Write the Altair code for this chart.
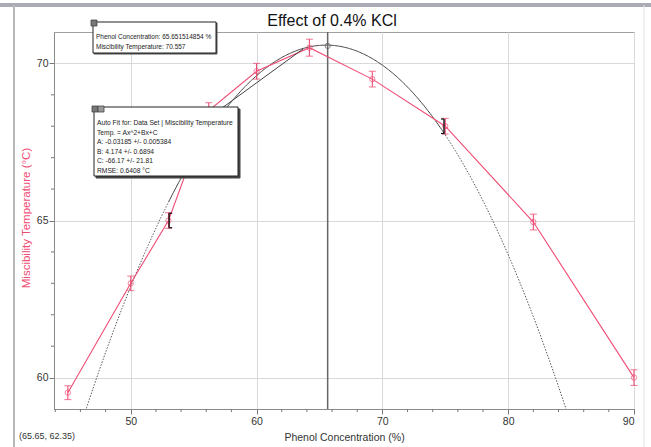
import altair as alt
import pandas as pd

# ---------------- data ----------------
phenol = [45.0, 50.0, 53.0, 56.2, 60.0, 64.2, 69.2, 75.0, 82.0, 90.0]
temp = [59.52, 63.0, 65.0, 68.5, 69.75, 70.5, 69.5, 68.0, 64.95, 60.0]
err = [0.22, 0.23, 0.25, 0.25, 0.25, 0.27, 0.25, 0.25, 0.25, 0.25]

# quadratic auto-fit shown in the annotation box
fit_A, fit_B, fit_C = -0.03185, 4.174, -66.17
fit_range = [53.0, 75.0]          # selected fit region (bracket markers)
fit_extent = [46.4, 84.7]         # where the dotted extrapolation leaves the plot
bracket_x = [53.05, 74.9]
bracket_y = [65.0, 68.0]

cursor_x = 65.651514854
cursor_y = 70.557

x_major = [50, 60, 70, 80, 90]
x_minor = [44, 46, 48, 52, 54, 56, 58, 62, 64, 66, 68, 72, 74, 76, 78, 82, 84, 86, 88]
y_major = [60, 65, 70]
y_minor = [61, 62, 63, 64, 66, 67, 68, 69]

title_text = "Effect of 0.4% KCl"
x_title = "Phenol Concentration (%)"
y_title = "Miscibility Temperature (°C)"
box1_lines = ["Phenol Concentration: 65.651514854 %", "Miscibility Temperature: 70.557"]
box2_lines = ["Auto Fit for: Data Set | Miscibility Temperature",
              "Temp. = Ax^2+Bx+C",
              "A: -0.03185 +/- 0.005384",
              "B: 4.174 +/- 0.6894",
              "C: -66.17 +/- 21.81",
              "RMSE: 0.6408 °C"]
cursor_label = "(65.65, 62.35)"

# ---------------- layout ----------------
W, H = 580, 377
PL, PT = 54, 32
PR, PB = 651 - PL - W, 447 - PT - H
FONT = "Liberation Sans, Arial, sans-serif"
PINK = "#f04c74"

xs = alt.Scale(domain=[43.9, 90], nice=False, zero=False)
ys = alt.Scale(domain=[59, 71], nice=False, zero=False)

x_axis = alt.Axis(values=x_major, tickSize=5, labelPadding=2, grid=True, titleFontSize=10.5,
                  titleX=W / 2, titleY=28, titleBaseline="middle", titleAlign="center")
y_axis = alt.Axis(values=y_major, tickSize=5, labelPadding=1, grid=True, titleFontSize=11.5,
                  titleX=-28, titleY=H / 2 - 3, titleAngle=270, titleAlign="center",
                  titleBaseline="middle", titleColor=PINK)


def X(f="x"):
    return alt.X(f"{f}:Q", scale=xs, axis=x_axis, title=x_title)


def Y(f="y"):
    return alt.Y(f"{f}:Q", scale=ys, axis=y_axis, title=y_title)


df = pd.DataFrame({"x": phenol, "y": temp, "lo": [t - e for t, e in zip(temp, err)],
                   "hi": [t + e for t, e in zip(temp, err)]})

# fit curve sampled from the displayed coefficients
steps = int(round((fit_extent[1] - fit_extent[0]) / 0.1))
cx = [fit_extent[0] + i * 0.1 for i in range(steps + 1)]
curve = pd.DataFrame({"x": cx, "y": [fit_A * v * v + fit_B * v + fit_C for v in cx]})
solid = curve[(curve.x >= fit_range[0]) & (curve.x <= fit_range[1])]
left = curve[curve.x <= fit_range[0]].assign(seg="L")
right = curve[curve.x >= fit_range[1]].assign(seg="R")
dotted = pd.concat([left, right])

base_axes = alt.Chart(df).mark_point(opacity=0).encode(x=X(), y=Y())

xminor = alt.Chart(pd.DataFrame({"x": x_minor})).mark_rule(color="#777", clip=False).encode(
    x=X(), y=alt.value(H), y2=alt.value(H + 3))
yminor = alt.Chart(pd.DataFrame({"y": y_minor})).mark_rule(color="#777", clip=False).encode(
    y=Y(), x=alt.value(-3), x2=alt.value(0))

fit_dotted = alt.Chart(dotted).mark_line(color="#555", strokeWidth=1, strokeDash=[1.5, 1.5],
                                         clip=True).encode(x=X(), y=Y(), detail="seg:N")
fit_solid = alt.Chart(solid).mark_line(color="#444", strokeWidth=1, clip=True).encode(x=X(), y=Y())

cursor = alt.Chart(pd.DataFrame({"x": [cursor_x]})).mark_rule(color="#666", strokeWidth=1.5).encode(
    x=X(), y=alt.value(0), y2=alt.value(H))
cursor_pt = alt.Chart(pd.DataFrame({"x": [cursor_x], "y": [cursor_y]})).mark_point(
    shape="circle", filled=False, size=28, color="#555", strokeWidth=1).encode(x=X(), y=Y())

pink_line = alt.Chart(df).mark_line(color=PINK, strokeWidth=1.1).encode(x=X(), y=Y())
pink_pts = alt.Chart(df).mark_point(shape="circle", filled=False, size=28, color=PINK,
                                    strokeWidth=1).encode(x=X(), y=Y())
ebar = alt.Chart(df).mark_rule(color=PINK, strokeWidth=1.1).encode(x=X(), y=Y("lo"), y2="hi:Q")
cap_hi = alt.Chart(df).mark_tick(color=PINK, orient="horizontal", size=7, thickness=1.1).encode(
    x=X(), y=Y("hi"))
cap_lo = alt.Chart(df).mark_tick(color=PINK, orient="horizontal", size=7, thickness=1.1).encode(
    x=X(), y=Y("lo"))

bdf = pd.DataFrame({"x": bracket_x, "lo": [v - 0.23 for v in bracket_y],
                    "hi": [v + 0.23 for v in bracket_y]})
br_v = alt.Chart(bdf).mark_rule(color="#111", strokeWidth=1.4).encode(x=X(), y=Y("lo"), y2="hi:Q")
br_caps = []
for i, off in [(0, 3), (1, -3)]:
    for f in ["hi", "lo"]:
        br_caps.append(alt.Chart(bdf.iloc[[i]]).mark_rule(color="#111", strokeWidth=1.2,
                                                          x2Offset=off).encode(
            x=X(), x2="x:Q", y=Y(f)))

one = pd.DataFrame({"k": [0]})


def px_rect(x1, y1, x2, y2, fill="white", stroke="#222", sw=1.0):
    return alt.Chart(one).mark_rect(fill=fill, stroke=stroke, strokeWidth=sw, clip=False).encode(
        x=alt.value(x1 - PL), x2=alt.value(x2 - PL), y=alt.value(y1 - PT), y2=alt.value(y2 - PT))


def px_line(x1, y1, x2, y2, color="#777", sw=1.0):
    return alt.Chart(one).mark_rule(color=color, strokeWidth=sw, clip=False).encode(
        x=alt.value(x1 - PL), x2=alt.value(x2 - PL), y=alt.value(y1 - PT), y2=alt.value(y2 - PT))


def px_text(text, x, y, size, color="#222", align="left", baseline="middle"):
    return alt.Chart(one).mark_text(text=text, font=FONT, fontSize=size, color=color, align=align,
                                    baseline=baseline, clip=False).encode(
        x=alt.value(x - PL), y=alt.value(y - PT))


leader = px_line(222, 108, 303, 49, color="#444", sw=1)

box1 = [px_rect(94, 23, 217, 54, fill="#555", stroke="#555"),
        px_rect(93, 22, 216, 53),
        px_rect(91, 20, 97, 26, fill="#777", stroke="#444", sw=0.8)]
box1 += [px_text(t, 96, 37 + i * 9.5, 6.5) for i, t in enumerate(box1_lines)]
box2 = [px_rect(96, 109, 240, 178, fill="#444", stroke="#444"),
        px_rect(94, 107, 238, 176),
        px_rect(92, 106, 98, 112, fill="#777", stroke="#444", sw=0.8),
        px_rect(98, 106, 104, 112, fill="#999", stroke="#444", sw=0.8)]
box2 += [px_text(t, 97, 123 + i * 9.6, 6.7) for i, t in enumerate(box2_lines)]

title = px_text(title_text, 332, 26, 16, color="#111", align="center", baseline="alphabetic")
cur_lab = px_text(cursor_label, 19, 436, 9, color="#333")

frame = [px_rect(0, 3, 651, 7, fill="#a9acb4", stroke="#a9acb4", sw=0),
         px_line(14, 5, 14, 447, color="#b8b8b8", sw=2),
         px_line(644, 5, 644, 447, color="#e2e2e2", sw=1)]

chart = alt.layer(
    base_axes, xminor, yminor, fit_dotted, fit_solid, cursor, cursor_pt,
    pink_line, ebar, cap_hi, cap_lo, pink_pts,
    br_v, *br_caps, leader,
    *box1, *box2, title, cur_lab, *frame
).properties(
    width=W, height=H,
    autosize=alt.AutoSizeParams(type="none"),
    padding={"left": PL, "top": PT, "right": PR, "bottom": PB},
    background="white",
).configure_axis(
    labelFont=FONT, titleFont=FONT, labelFontSize=10.5,
    labelColor="#333", titleColor="#333", titleFontWeight="normal",
    domainColor="#8a8a8a", tickColor="#777", gridColor="#d9d9d9", gridWidth=1,
).configure_view(stroke="#a0a0a0", strokeWidth=1)

chart.save("out.html", embed_options={"renderer": "svg", "actions": False})
